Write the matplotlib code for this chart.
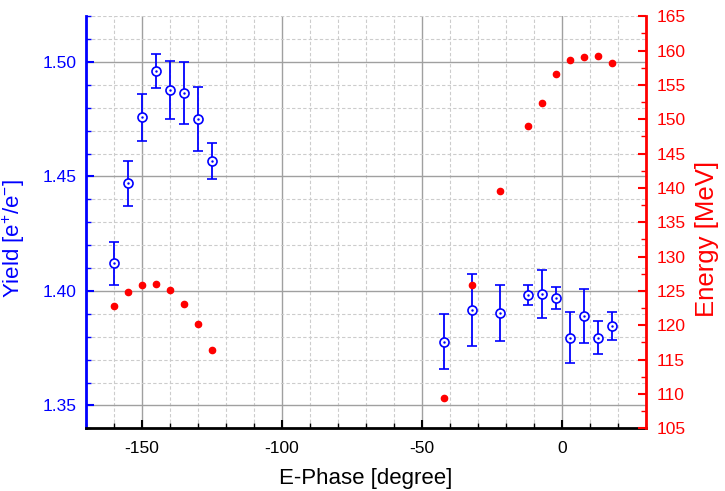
import numpy as np
import matplotlib
matplotlib.use("Agg")
import matplotlib.pyplot as plt
from matplotlib.ticker import MultipleLocator

plt.rcParams['font.family'] = ['Liberation Sans', 'DejaVu Sans']
plt.rcParams['mathtext.fontset'] = 'custom'
plt.rcParams['mathtext.rm'] = 'Liberation Sans'
plt.rcParams['mathtext.it'] = 'Liberation Sans:italic'
plt.rcParams['axes.unicode_minus'] = False

# --- Yield data (left axis) ---
phase_yield = [-160, -155, -150, -145, -140, -135, -130, -125,
               -42, -32, -22, -12, -7, -2, 3, 8, 13, 18]
yield_val = [1.412, 1.447, 1.4758, 1.4961, 1.4879, 1.4865, 1.4751, 1.4569,
             1.3779, 1.3916, 1.3904, 1.3981, 1.3987, 1.3969, 1.3796, 1.3889, 1.3796, 1.3848]
yield_err = [0.0093, 0.0099, 0.0103, 0.0073, 0.0127, 0.0135, 0.0141, 0.0078,
             0.0122, 0.0157, 0.0123, 0.0043, 0.0104, 0.0049, 0.0112, 0.0118, 0.0072, 0.0061]

# --- Energy data (right axis) ---
phase_energy = [-160, -155, -150, -145, -140, -135, -130, -125,
                -42, -32, -22, -12, -7, -2, 3, 8, 13, 18]
energy_val = [122.8, 124.8, 125.9, 126.05, 125.1, 123.1, 120.2, 116.4,
              109.4, 125.8, 139.5, 149.0, 152.3, 156.6, 158.6, 159.1, 159.15, 158.2]

fig = plt.figure(figsize=(7.25, 4.91), dpi=100)
ax = fig.add_axes([0.1186, 0.1277, 0.7724, 0.8393])

# grid
ax.set_axisbelow(True)
ax.grid(True, which='major', color='#a0a0a0', linestyle='-', linewidth=1.0)
ax.grid(True, which='minor', color='#cccccc', linestyle='--', linewidth=0.8, dashes=(3, 2))

ax.errorbar(phase_yield, yield_val, yerr=yield_err, fmt='o', color='blue',
            mfc='white', mec='blue', ms=6.5, mew=1.2, elinewidth=1.3,
            capsize=3.4, capthick=1.3, zorder=3)
ax.plot(phase_yield, yield_val, '.', color='blue', ms=1.5, zorder=4)

ax.set_xlim(-170, 30)
ax.set_ylim(1.34, 1.52)
ax.xaxis.set_major_locator(MultipleLocator(50))
ax.xaxis.set_minor_locator(MultipleLocator(10))
ax.yaxis.set_major_locator(MultipleLocator(0.05))
ax.yaxis.set_minor_locator(MultipleLocator(0.01))
ax.yaxis.set_major_formatter(plt.FormatStrFormatter('%.2f'))

ax.tick_params(axis='both', which='both', direction='in', labelsize=12.5)
ax.tick_params(axis='x', which='major', length=6, width=1.5, pad=9, colors='black')
ax.tick_params(axis='x', which='minor', length=3.5, width=1.0)
ax.tick_params(axis='y', which='major', length=6, width=1.5, pad=7,
               colors='blue', labelcolor='blue')
ax.tick_params(axis='y', which='minor', length=3.5, width=1.0, colors='blue')

ax.spines['left'].set_color('blue')
ax.spines['left'].set_linewidth(2)
ax.spines['bottom'].set_linewidth(2)
ax.spines['top'].set_visible(False)
ax.spines['right'].set_visible(False)

ax.set_xlabel('E-Phase [degree]', fontsize=16, labelpad=9)
ax.set_ylabel(r'Yield [e$^{\mathregular{+}}$/e$^{\mathregular{-}}$]', fontsize=16,
              color='blue')
ax.yaxis.set_label_coords(-0.105, 0.46)

# --- Energy on twin axis ---
ax2 = ax.twinx()
ax2.errorbar(phase_energy, energy_val, xerr=0.9, fmt='o', color='red',
             ms=4.5, elinewidth=2.5, capsize=0, zorder=5)
ax2.set_ylim(105, 165)
ax2.yaxis.set_major_locator(MultipleLocator(5))
ax2.yaxis.set_minor_locator(MultipleLocator(2.5))
ax2.tick_params(axis='y', which='both', direction='in', colors='red',
                labelcolor='red', labelsize=12.5)
ax2.tick_params(axis='y', which='major', length=6, width=1.5, pad=8)
ax2.tick_params(axis='y', which='minor', length=3.5, width=1.0)
ax2.spines['right'].set_color('red')
ax2.spines['right'].set_linewidth(2)
ax2.spines['left'].set_visible(False)
ax2.spines['top'].set_visible(False)
ax2.spines['bottom'].set_visible(False)
ax2.set_ylabel('Energy [MeV]', fontsize=18.5, color='red')
ax2.yaxis.set_label_coords(1.087, 0.46)

fig.savefig('out.png', dpi=100)
